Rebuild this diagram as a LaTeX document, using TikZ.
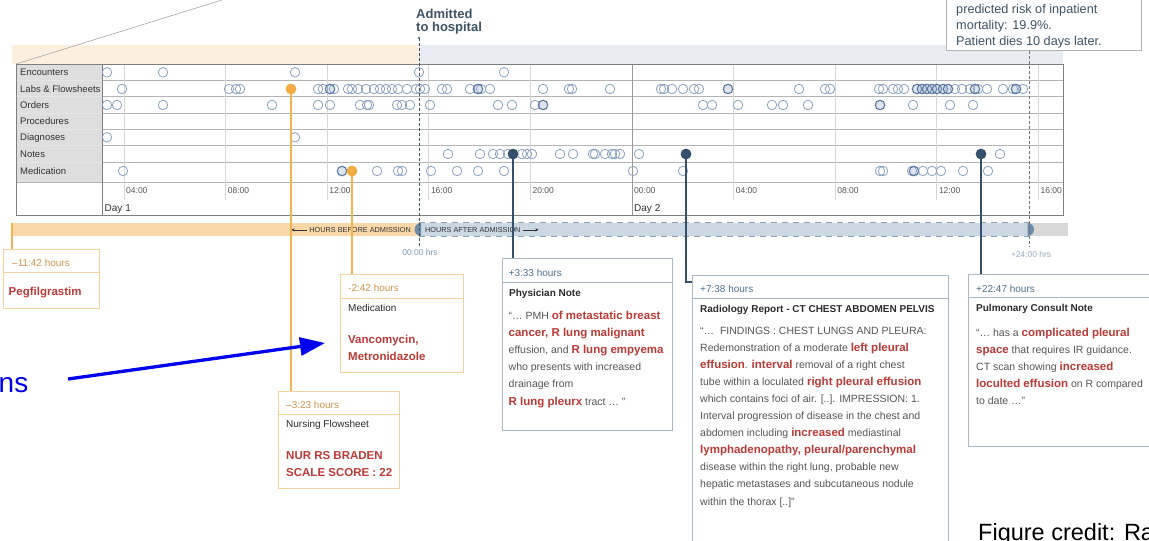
\documentclass[tikz,border=0pt]{standalone}
\usepackage{fontspec}
\setmainfont{Liberation Sans}
\usetikzlibrary{calc,arrows.meta}

\definecolor{bandO}{HTML}{FCEFDF}
\definecolor{bandB}{HTML}{E8ECF2}
\definecolor{lblfill}{HTML}{DEDEDE}
\definecolor{rowc}{HTML}{B4B4B4}
\definecolor{hourc}{HTML}{D6D6D6}
\definecolor{borderc}{HTML}{7E7E7E}
\definecolor{evc}{HTML}{8CA3C4}
\definecolor{evk}{HTML}{5A78A0}
\definecolor{evfill}{HTML}{9FB3D0}
\definecolor{orD}{HTML}{F2AC42}
\definecolor{orL}{HTML}{F2B350}
\definecolor{navy}{HTML}{34506C}
\definecolor{barO}{HTML}{F9D8A8}
\definecolor{barB}{HTML}{CBD7E3}
\definecolor{barDash}{HTML}{8EA2B7}
\definecolor{capc}{HTML}{6C8CAA}
\definecolor{endg}{HTML}{D8D8D8}
\definecolor{admc}{HTML}{3E5366}
\definecolor{hrsc}{HTML}{7E9AB5}
\definecolor{orB}{HTML}{F4D29E}
\definecolor{orT}{HTML}{D4934C}
\definecolor{blB}{HTML}{A9B9C9}
\definecolor{blT}{HTML}{4D7091}
\definecolor{hired}{HTML}{BC3A35}
\definecolor{titc}{HTML}{2B2B2B}
\definecolor{bodyc}{HTML}{555555}
\definecolor{labc}{HTML}{333333}
\definecolor{slideblue}{HTML}{0000EE}

\newcommand\setfs[2]{\fontsize{#1}{#2}\selectfont}
\newcommand\hl[1]{{\setfs{11.5}{17}\bfseries\color{hired}#1}}

\begin{document}
\begin{tikzpicture}[x=1pt,y=-1pt,
  ev/.style={circle, draw=evc, line width=0.8pt, minimum size=9.5pt, inner sep=0pt},
  evd/.style={ev, draw=evk, line width=1.1pt, fill=evfill, fill opacity=0.35},
  odot/.style={circle, fill=orD, minimum size=10.5pt, inner sep=0pt},
  ndot/.style={circle, fill=navy, minimum size=10.5pt, inner sep=0pt},
  oline/.style={draw=orL, line width=1.4pt},
  nline/.style={draw=navy, line width=1.4pt},
  obox/.style={draw=orB, line width=0.9pt, fill=white, anchor=north west, inner sep=0pt},
  bbox/.style={draw=blB, line width=0.9pt, fill=white, anchor=north west, inner sep=0pt},
  rowlab/.style={anchor=base west, inner sep=0pt, text=labc, font=\setfs{9.5}{11}},
  tlab/.style={anchor=base west, inner sep=0pt, text=bodyc, font=\setfs{8.5}{10}},
  daylab/.style={anchor=base west, inner sep=0pt, text=labc, font=\setfs{10}{12}},
  ohead/.style={anchor=base west, inner sep=0pt, text=orT, font=\setfs{10}{12}},
  bhead/.style={anchor=base west, inner sep=0pt, text=blT, font=\setfs{10}{12}},
  btitle/.style={anchor=base west, inner sep=0pt, text=titc, font=\setfs{10}{12}\bfseries},
  otitle/.style={anchor=base west, inner sep=0pt, text=titc, font=\setfs{10}{12}},
  bodytxt/.style={anchor=base west, inner sep=0pt, text=bodyc},
  hrsl/.style={inner sep=0pt, font=\setfs{8.5}{10}},
  barlab/.style={inner sep=0pt, text=labc, font=\setfs{7.3}{8}},
]
\useasboundingbox (0,0) rectangle (1149,541);
\clip (0,0) rectangle (1149,541);
\fill[white] (0,0) rectangle (1149,541);

% ---------- header bands above the event grid ----------
\fill[bandO] (12,45) rectangle (419,64);
\fill[bandB] (419,45) rectangle (1063,64);
\draw[gray!70, line width=0.6pt] (16,64) -- (222,0);

% ---------- event grid ----------
\fill[lblfill] (16,64) rectangle (102,182.3);
\foreach \y in {80.7,96.7,113.3,129.3,145.3,162.3} {
  \draw[rowc, line width=0.7pt] (102,\y) -- (1063,\y);
  \draw[white!80!gray, line width=0.7pt] (16,\y) -- (102,\y);
}
\draw[rowc, line width=0.8pt] (16,182.3) -- (1063,182.3);
\foreach \x in {124.0,225.6,327.2,428.8,530.4,733.6,835.2,936.8,1038.4}
  \draw[hourc, line width=0.7pt] (\x,64) -- (\x,200);
\draw[gray!80, line width=0.8pt] (632,64) -- (632,215);
\draw[borderc, line width=0.9pt] (16,64) rectangle (1063,215);
\draw[borderc, line width=0.9pt] (102,64) -- (102,215);

% row labels
\node[rowlab] (lEnc) at (20,75.5) {Encounters};
\node[rowlab] (lLab) at (20,92.3) {Labs \& Flowsheets};
\node[rowlab] (lOrd) at (20,108.5) {Orders};
\node[rowlab] (lPro) at (20,124.8) {Procedures};
\node[rowlab] (lDia) at (20,140.8) {Diagnoses};
\node[rowlab] (lNot) at (20,157) {Notes};
\node[rowlab] (lMed) at (20,174.8) {Medication};

% time axis labels
\foreach \x/\t [count=\i] in {124.0/04:00,225.6/08:00,327.2/12:00,428.8/16:00,530.4/20:00,632/00:00,733.6/04:00,835.2/08:00,936.8/12:00,1038.4/16:00}
  \node[tlab] (tl\i) at (\x+2,193.5) {\t};
\node[daylab] (day1) at (104.5,211) {Day 1};
\node[daylab] (day2) at (634,211) {Day 2};

% ---------- events ----------
\foreach \x [count=\i] in {107,163,295,419,504}
  \node[ev] (enc\i) at (\x,72.3) {};
\foreach \x [count=\i] in {122,229,236,240,318,323,334,348,352,358,366,374,380,386,392,398,407,416,420,425,442,447,470,481,490,543,569,572,610,661,664,672,683,694,699,799,825,830,879,883,893,898,904,955,962,970,978,987,1003,1013,1023}
  \node[ev] (lab\i) at (\x,89) {};
\foreach \x [count=\i] in {330,478,728,917,922,927,932,937,943,948,975,1016}
  \node[evd] (labd\i) at (\x,89) {};
\foreach \x [count=\i] in {107,117,163,272,318,330,360,367,369,397,402,410,430,498,512,535,703,712,738,772,783,808,913,950,973}
  \node[ev] (ord\i) at (\x,105) {};
\foreach \x [count=\i] in {543,880}
  \node[evd] (ordd\i) at (\x,105) {};
\foreach \x [count=\i] in {107,295}
  \node[ev] (dia\i) at (\x,137.3) {};
\foreach \x [count=\i] in {448,480,493,500,508,522,527,532,560,573,593,595,605,612,615,620,639,1000}
  \node[ev] (not\i) at (\x,154) {};
\foreach \x [count=\i] in {123,377,398,402,431,457,478,504,633,683,880,883,912,923,932,941,963,988}
  \node[ev] (med\i) at (\x,171) {};
\foreach \x [count=\i] in {342,914}
  \node[evd] (medd\i) at (\x,171) {};

% ---------- admission and end-of-window markers ----------
\node[anchor=base west, inner sep=0pt, text=admc, font=\setfs{13}{14}\bfseries] (adm1) at (416,18) {Admitted};
\node[anchor=base west, inner sep=0pt, text=admc, font=\setfs{13}{14}\bfseries] (adm2) at (416,31.5) {to hospital};
\node[draw=gray!60, line width=0.8pt, fill=white, anchor=north west, inner sep=0pt,
      minimum width=195pt, minimum height=60pt] (mort) at (946,-10) {};
\node[anchor=base west, inner sep=0pt, text=admc, font=\setfs{12.7}{14}] (mort1) at (956,13) {predicted risk of inpatient};
\node[anchor=base west, inner sep=0pt, text=admc, font=\setfs{12.7}{14}] (mort2) at (956,29) {mortality: 19.9\%.};
\node[anchor=base west, inner sep=0pt, text=admc, font=\setfs{12.7}{14}] (mort3) at (956,45) {Patient dies 10 days later.};

% ---------- hours bar ----------
\fill[barO] (12,223) rectangle (419,236);
\node[inner sep=0pt, minimum width=610pt, minimum height=13pt, fill=barB, anchor=west] (after) at (419,229.5) {};
\draw[barDash, line width=0.8pt, dash pattern=on 6pt off 5pt] (after.north west) -- (after.north east);
\draw[barDash, line width=0.8pt, dash pattern=on 6pt off 5pt] (after.south west) -- (after.south east);
\fill[endg] (after.north east) rectangle (1068,236);
\fill[capc] (421,223) arc[start angle=90, end angle=270, radius=6.5pt] -- cycle;
\fill[capc] (1027.5,223) arc[start angle=90, end angle=-90, radius=6.5pt] -- cycle;
\node[barlab, anchor=east] (hb) at (411,229.8) {HOURS BEFORE ADMISSION};
\draw[labc, line width=0.6pt, -{Stealth[length=3.5pt,width=3pt]}] ([xshift=-2pt]hb.west) -- ++(-16,0);
\node[barlab, anchor=west] (ha) at (425,229.8) {HOURS AFTER ADMISSION};
\draw[labc, line width=0.6pt, -{Stealth[length=3.5pt,width=3pt]}] ([xshift=2pt]ha.east) -- ++(16,0);
\node[hrsl, text=hrsc] (h0) at (420,252.5) {00:00 hrs};
\node[hrsl, text=hrsc!80] (h24) at (1031,254.5) {+24:00 hrs};

\coordinate (admTop) at (419,38);
\coordinate (admBot) at (419,246);
\fill[admc] (admTop) circle (1.2pt);
\draw[admc, line width=0.9pt, dash pattern=on 3pt off 2pt] (admTop) -- (admBot);
\draw[gray!90!black, line width=0.9pt, dash pattern=on 3pt off 2pt] (mort.south -| 1029.5,0) -- (1029.5,246);

% ---------- detail boxes ----------
\node[obox, minimum width=96pt, minimum height=59pt] (peg) at (3,249) {};
\node[obox, minimum width=123pt, minimum height=98pt] (medb) at (340,274) {};
\node[obox, minimum width=121pt, minimum height=97pt] (nurse) at (278,391) {};
\node[bbox, minimum width=170pt, minimum height=172pt] (phys) at (502,258) {};
\node[bbox, minimum width=256pt, minimum height=290pt] (rad) at (692,275) {};
\node[bbox, minimum width=200pt, minimum height=172pt] (pulm) at (968,274) {};

\draw[orB, line width=0.8pt] ($(peg.north west)+(0,23)$) -- ($(peg.north east)+(0,23)$);
\draw[orB, line width=0.8pt] ($(medb.north west)+(0,24)$) -- ($(medb.north east)+(0,24)$);
\draw[orB, line width=0.8pt] ($(nurse.north west)+(0,23)$) -- ($(nurse.north east)+(0,23)$);
\draw[blB, line width=0.8pt] ($(phys.north west)+(0,24)$) -- ($(phys.north east)+(0,24)$);
\draw[blB, line width=0.8pt] ($(rad.north west)+(0,23)$) -- ($(rad.north east)+(0,23)$);
\draw[blB, line width=0.8pt] ($(pulm.north west)+(0,23)$) -- ($(pulm.north east)+(0,23)$);

% ---------- connectors from events to boxes ----------
\node[odot] (dLab) at (291,89) {};
\node[odot] (dMed) at (352,171) {};
\node[ndot] (dPhys) at (513,154) {};
\node[ndot] (dRad) at (686,154) {};
\node[ndot] (dPulm) at (981,154) {};
\coordinate (pegTop) at (12,223);

\draw[oline] (pegTop) -- (pegTop |- peg.north);
\draw[oline] (dLab.center) -- (dLab.center |- nurse.north);
\draw[oline] (dMed.center) -- (dMed.center |- medb.north);
\draw[nline] (dPhys.center) -- (dPhys.center |- phys.north);
\draw[nline] (dRad.center) |- ([yshift=-7pt]rad.north west);
\draw[nline] (dPulm.center) -- (dPulm.center |- pulm.north);
\node[odot] at (dLab) {};
\node[odot] at (dMed) {};
\node[ndot] at (dPhys) {};
\node[ndot] at (dRad) {};
\node[ndot] at (dPulm) {};

% ---------- box texts ----------
\node[ohead] (pegH) at (12,266) {–11:42 hours};
\node[bodytxt] (pegT) at (8.5,295) {\hl{Pegfilgrastim}};

\node[ohead] (medH) at (348,291.5) {-2:42 hours};
\node[otitle] (medTi) at (348,311) {Medication};
\node[bodytxt] (medT) at (348,335) {\parbox[t]{110pt}{\setfs{11.5}{17}\raggedright
  \hl{Vancomycin,}\\ \hl{Metronidazole}}};

\node[ohead] (nurH) at (286,408) {–3:23 hours};
\node[otitle] (nurTi) at (286,427) {Nursing Flowsheet};
\node[bodytxt] (nurT) at (286,451) {\parbox[t]{110pt}{\setfs{11.5}{17}\raggedright
  \hl{NUR RS BRADEN}\\ \hl{SCALE SCORE : 22}}};

\node[bhead] (phyH) at (508.5,276) {+3:33 hours};
\node[btitle] (phyTi) at (509,296) {Physician Note};
\node[bodytxt] (phyT) at (508.5,319) {\parbox[t]{165pt}{\setfs{10.5}{17.2}\raggedright
  “… PMH \hl{of metastatic breast}\\
  \hl{cancer, R lung malignant}\\
  effusion, and \hl{R lung empyema}\\
  who presents with increased\\
  drainage from\\
  \hl{R lung pleurx} tract … ”}};

\node[bhead] (radH) at (700,292) {+7:38 hours};
\node[btitle] (radTi) at (700,312) {Radiology Report - CT CHEST ABDOMEN PELVIS};
\node[bodytxt] (radT) at (700,334) {\parbox[t]{250pt}{\setfs{10.5}{17.1}\raggedright
  “…\ \ FINDINGS : CHEST LUNGS AND PLEURA:\\
  Redemonstration of a moderate \hl{left pleural}\\
  \hl{effusion}. \hl{interval} removal of a right chest\\
  tube within a loculated \hl{right pleural effusion}\\
  which contains foci of air. [..]. IMPRESSION: 1.\\
  Interval progression of disease in the chest and\\
  abdomen including \hl{increased} mediastinal\\
  \hl{lymphadenopathy, pleural/parenchymal}\\
  disease within the right lung, probable new\\
  hepatic metastases and subcutaneous nodule\\
  within the thorax [..]”}};

\node[bhead] (pulH) at (976,292) {+22:47 hours};
\node[btitle] (pulTi) at (976,311) {Pulmonary Consult Note};
\node[bodytxt] (pulT) at (976,336) {\parbox[t]{190pt}{\setfs{10.5}{17}\raggedright
  “… has a \hl{complicated pleural}\\
  \hl{space} that requires IR guidance.\\
  CT scan showing \hl{increased}\\
  \hl{loculted effusion} on R compared\\
  to date …”}};

% ---------- slide overlay: pointer and credit ----------
\node[anchor=base west, inner sep=0pt, text=slideblue, font=\setfs{28}{30}] (ns) at (-1.5,392) {ns};
\coordinate (arrS) at (68,379);
\coordinate (arrT) at (325,343);
\draw[slideblue, line width=3.3pt, -{Triangle[length=25pt,width=18pt]}] (arrS) -- (arrT);
\node[anchor=base west, inner sep=0pt, text=black, font=\setfs{23.5}{26}] (credit) at (978,540) {Figure credit: Ra};

\end{tikzpicture}
\end{document}
